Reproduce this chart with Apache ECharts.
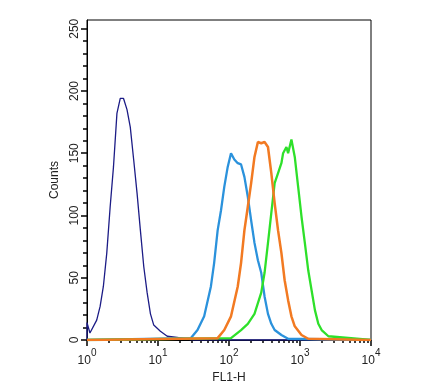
<!DOCTYPE html>
<html>
<head>
<meta charset="utf-8">
<script src="https://cdn.jsdelivr.net/npm/echarts@6/dist/echarts.min.js"></script>
<style>html,body{margin:0;padding:0;background:#fff}#c{width:425px;height:389px}</style>
</head>
<body>
<div id="c"></div>
<script>
// FL1-H values (x) and counts (y) for each histogram
const darkBlueX = [1, 1, 1.10, 1.37, 1.53, 1.70, 1.90, 2.12, 2.36, 2.64, 2.94, 3.27, 3.66, 4.07, 4.54, 5.07, 5.65, 6.30, 7.03, 7.83, 8.71, 10.8, 13.5, 18.6, 31.6, 10000];
const darkBlueY = [0, 14, 5.6, 16, 27, 43, 70, 107, 139, 182, 194, 194, 185, 171, 145, 118, 88, 59, 38, 21, 12, 7, 3, 2, 0, 0];

const lightBlueX = [1, 28.9, 36.0, 44.7, 55.6, 61.8, 69.2, 77.1, 85.8, 95.9, 106.7, 118.9, 132.8, 147.9, 164.8, 184.1, 205.1, 228.5, 255.3, 284.4, 316.9, 354.0, 394.5, 439.5, 547, 680, 10000];
const lightBlueY = [0, 1.4, 8, 19, 43, 62, 88, 104, 123, 139, 150, 145, 142, 141, 131, 115, 96, 78, 64, 54, 35, 21, 13, 8, 4, 1, 0];

const orangeX = [1, 69.2, 85.8, 106.7, 132.8, 147.9, 164.8, 184.1, 205.1, 228.5, 255.3, 284.4, 316.9, 354.0, 394.5, 439.5, 490.9, 547, 608, 680, 757, 844, 1050, 1306, 10000];
const orangeY = [0, 1.5, 8, 19, 43, 62, 88, 107, 126, 147, 159, 158, 159, 155, 134, 110, 88, 70, 48, 32, 19, 11, 4, 1, 0];

const greenX = [1, 106.7, 147.9, 184.1, 228.5, 284.4, 316.9, 354.0, 394.5, 439.5, 490.9, 547, 578, 644, 680, 757, 844, 942, 1050, 1170, 1306, 1456, 1622, 1811, 2018, 2512, 10000];
const greenY = [0, 1.5, 8, 13, 21, 38, 54, 78, 102, 126, 134, 142, 150, 155, 150, 161, 147, 123, 99, 78, 56, 40, 24, 13, 8, 3, 0];

// axis ticks
const xMajorTicks = [1, 10, 100, 1000, 10000];
const xMinorTicks = [2,3,4,5,6,7,8,9,20,30,40,50,60,70,80,90,200,300,400,500,600,700,800,900,2000,3000,4000,5000,6000,7000,8000,9000];
const yMajorTicks = [0, 50, 100, 150, 200, 250];
const yMinorTicks = [10,20,30,40,60,70,80,90,110,120,130,140,160,170,180,190,210,220,230,240];
const yMax = 257;

function pairs(xs, ys) { return xs.map((x, i) => [x, ys[i]]); }

const chart = echarts.init(document.getElementById('c'), null, {renderer: 'canvas'});
const font = 'Liberation Sans, Arial, sans-serif';
const mk = (name, xs, ys, color, w) => ({
  name, type: 'line', xAxisIndex: 0, yAxisIndex: 0, data: pairs(xs, ys),
  showSymbol: false, symbol: 'none', animation: false,
  lineStyle: {color, width: w}, z: 3
});
chart.setOption({
  animation: false,
  backgroundColor: '#fff',
  grid: {left: 87, right: 54, top: 20, bottom: 49, show: true, borderColor: '#000', borderWidth: 1, backgroundColor: 'transparent'},
  xAxis: [{
    type: 'log', logBase: 10, min: 1, max: 10000,
    name: 'FL1-H', nameLocation: 'middle', nameGap: 27,
    nameTextStyle: {fontFamily: font, fontSize: 12, color: '#222'},
    axisLine: {show: true, lineStyle: {color: '#000', width: 1}},
    axisTick: {show: true, customValues: xMajorTicks, length: 6, inside: false, lineStyle: {color: '#000', width: 1.5}},
    axisLabel: {
      customValues: xMajorTicks, margin: 8,
      formatter: v => '{b|10}{s|' + Math.round(Math.log10(v)) + '}',
      rich: {
        b: {fontFamily: font, fontSize: 12, color: '#222', padding: [7, 0, 0, 0]},
        s: {fontFamily: font, fontSize: 10, color: '#222', verticalAlign: 'top'}
      }
    },
    splitLine: {show: false}
  }, {
    type: 'log', logBase: 10, min: 1, max: 10000, position: 'bottom',
    axisLine: {show: false},
    axisTick: {show: true, customValues: xMinorTicks, length: 3, lineStyle: {color: '#000', width: 1.5}},
    axisLabel: {show: false}, splitLine: {show: false}
  }],
  yAxis: [{
    type: 'value', min: 0, max: yMax,
    name: 'Counts', nameLocation: 'middle', nameGap: 24, nameRotate: 90,
    nameTextStyle: {fontFamily: font, fontSize: 12, color: '#222'},
    axisLine: {show: true, lineStyle: {color: '#000', width: 1}},
    axisTick: {show: true, customValues: yMajorTicks, length: 6, lineStyle: {color: '#000', width: 1.5}},
    axisLabel: {customValues: yMajorTicks, rotate: 90, margin: 6, fontFamily: font, fontSize: 12, color: '#222'},
    splitLine: {show: false}
  }, {
    type: 'value', min: 0, max: yMax, position: 'left',
    axisLine: {show: false},
    axisTick: {show: true, customValues: yMinorTicks, length: 4, lineStyle: {color: '#000', width: 1.5}},
    axisLabel: {show: false}, splitLine: {show: false}
  }],
  series: [
    mk('dark blue', darkBlueX, darkBlueY, '#1c1c86', 1.3),
    mk('light blue', lightBlueX, lightBlueY, '#2b92dc', 2.3),
    mk('green', greenX, greenY, '#2ee02a', 2.3),
    mk('orange', orangeX, orangeY, '#f27a22', 2.5)
  ]
});
</script>
</body>
</html>
